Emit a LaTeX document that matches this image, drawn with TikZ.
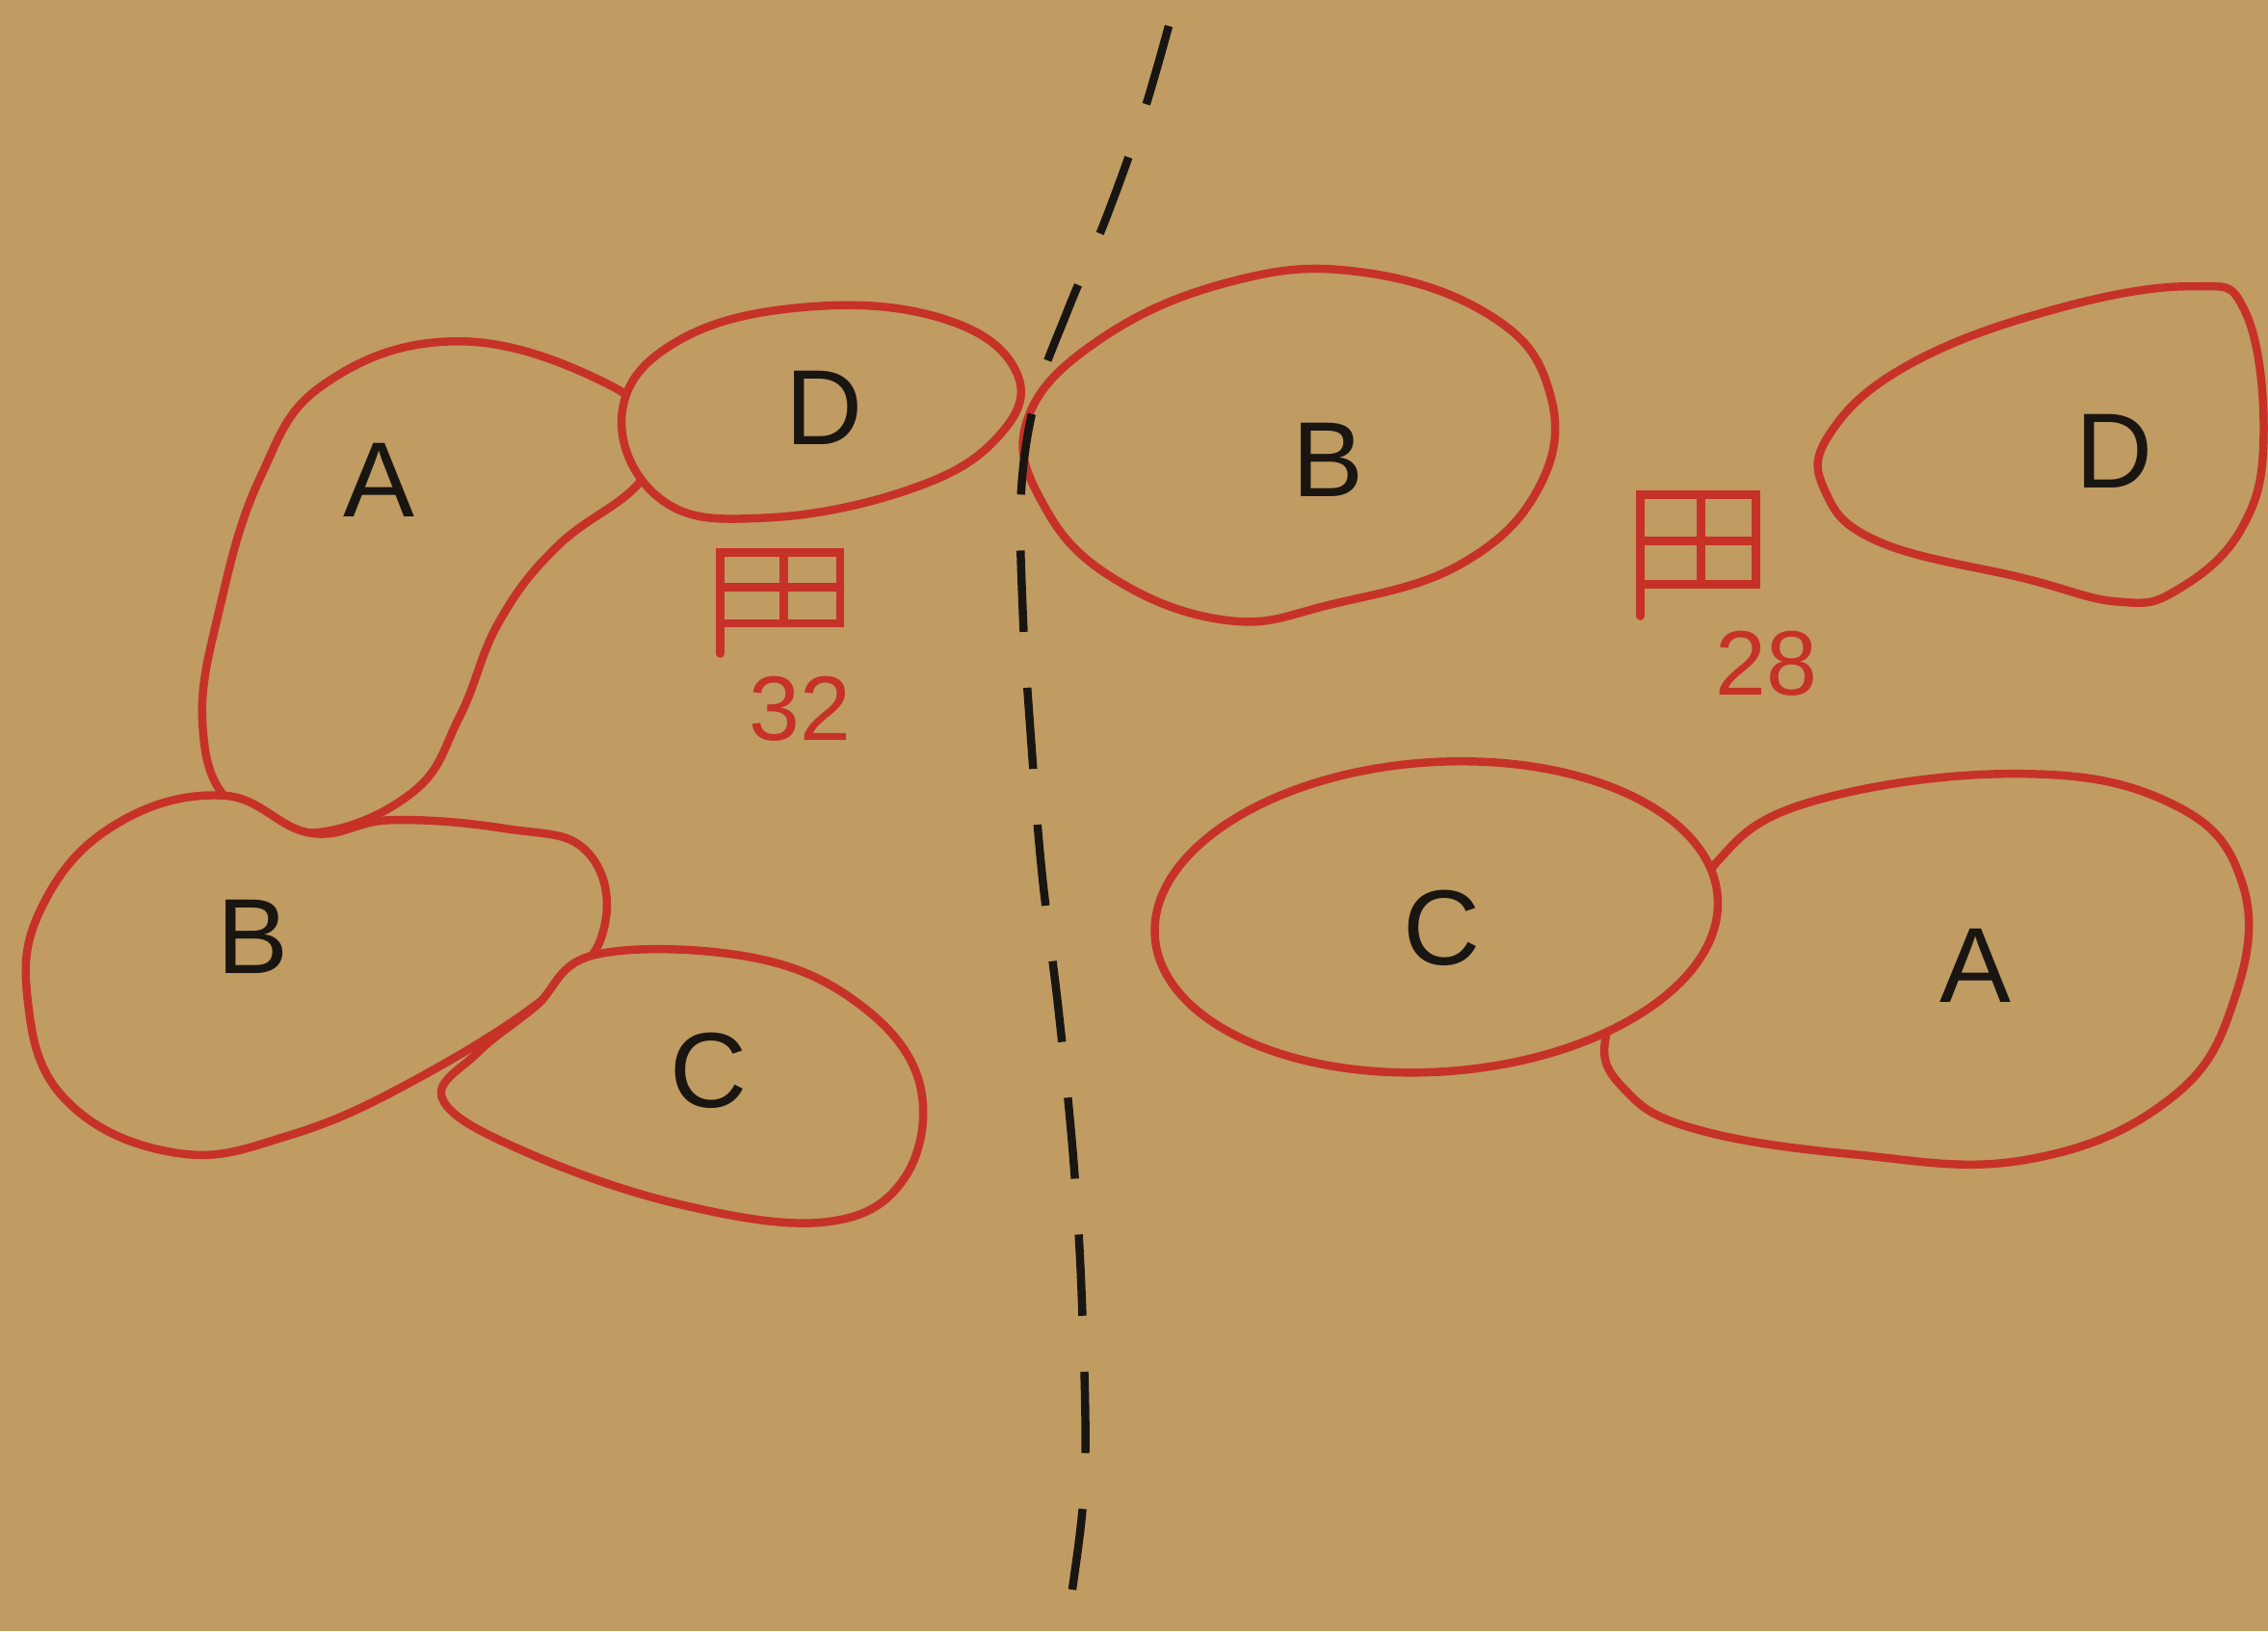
\documentclass[tikz,border=0pt]{standalone}
\usepackage{fontspec}
\setmainfont{Liberation Sans}
\definecolor{paper}{RGB}{192,155,98}
\definecolor{ink}{RGB}{198,50,40}
\definecolor{pen}{RGB}{25,22,18}
\begin{document}
\begin{tikzpicture}[x=0.01cm,y=-0.01cm,
  blob/.style={draw=ink,line width=1.6pt,fill=paper,line join=round},
  lbl/.style={text=pen,font=\fontsize{21}{24}\selectfont},
  num/.style={text=ink,font=\fontsize{18}{20}\selectfont},
  grid/.style={draw=ink,line width=1.6pt,line cap=round}]
\fill[paper] (0,0) rectangle (1568,1128);
\useasboundingbox (0,0) rectangle (1568,1128);
% ---- left group ----
\path[blob] plot[smooth cycle,tension=0.7] coordinates {(318,236) (421,266) (455,305) (439,337) (385,378) (345,430) (318,495) (285,548) (215,576) (160,556) (140,500) (152,420) (180,330) (225,265)};
\path[blob] plot[smooth cycle,tension=0.7] coordinates {(430,286) (470,235) (561,212) (654,221) (703,258) (690,302) (630,338) (530,358) (458,346)};
\path[blob] plot[smooth cycle,tension=0.7] coordinates {(154,550) (80,570) (30,625) (19,690) (45,760) (121,797) (200,785) (290,745) (383,685) (418,640) (405,588) (350,573) (271,567) (215,576)};
\path[blob] plot[smooth cycle,tension=0.65] coordinates {(412,660) (520,662) (595,695) (636,750) (625,815) (570,845) (467,832) (360,795) (306,760) (330,728) (370,696)};
% ---- right group ----
\path[blob] plot[smooth cycle,tension=0.7] coordinates {(710,291) (760,235) (850,195) (940,188) (1030,218) (1071,270) (1065,335) (1010,390) (920,418) (849,429) (770,400) (722,350)};
\path[blob] plot[smooth cycle,tension=0.7] coordinates {(1265,300) (1320,252) (1420,214) (1515,198) (1552,215) (1565,300) (1550,365) (1505,408) (1464,416) (1400,400) (1300,375) (1262,340)};
\path[blob] plot[smooth cycle,tension=0.7] coordinates {(1187,596) (1250,555) (1392,535) (1500,555) (1550,610) (1545,690) (1500,760) (1400,802) (1280,798) (1170,780) (1122,752) (1110,718) (1135,680) (1180,630)};
\path[blob,rotate around={4:(993,634)}] (993,634) ellipse [x radius=195, y radius=107];
% ---- dashed divider ----
\draw[pen,line width=1.6pt,dash pattern=on 16pt off 11pt]
  plot[smooth,tension=0.6] coordinates {(808,18) (790,80) (765,150) (738,215) (716,275) (706,340) (707,420) (712,500) (720,600) (732,700) (742,800) (748,900) (750,1020) (740,1110) (737,1140)};
% ---- labels ----
\node[lbl] (lA) at (262,332) {A};
\node[lbl] (lD) at (570,282) {D};
\node[lbl] (lB) at (175,648) {B};
\node[lbl] (lC) at (490,740) {C};
\node[lbl] (rB) at (918,318) {B};
\node[lbl] (rD) at (1462,312) {D};
\node[lbl] (rC) at (997,642) {C};
\node[lbl] (rA) at (1366,668) {A};
% ---- grid symbols ----
\draw[grid] (498,452) -- (498,382) -- (581,382) -- (581,431) -- (498,431)
  (498,406) -- (581,406) (542,382) -- (542,431);
\node[num] (n32) at (553,490) {32};
\draw[grid] (1134,426) -- (1134,342) -- (1214,342) -- (1214,404) -- (1134,404)
  (1134,374) -- (1214,374) (1176,342) -- (1176,404);
\node[num] (n28) at (1221,459) {28};
\end{tikzpicture}
\end{document}
